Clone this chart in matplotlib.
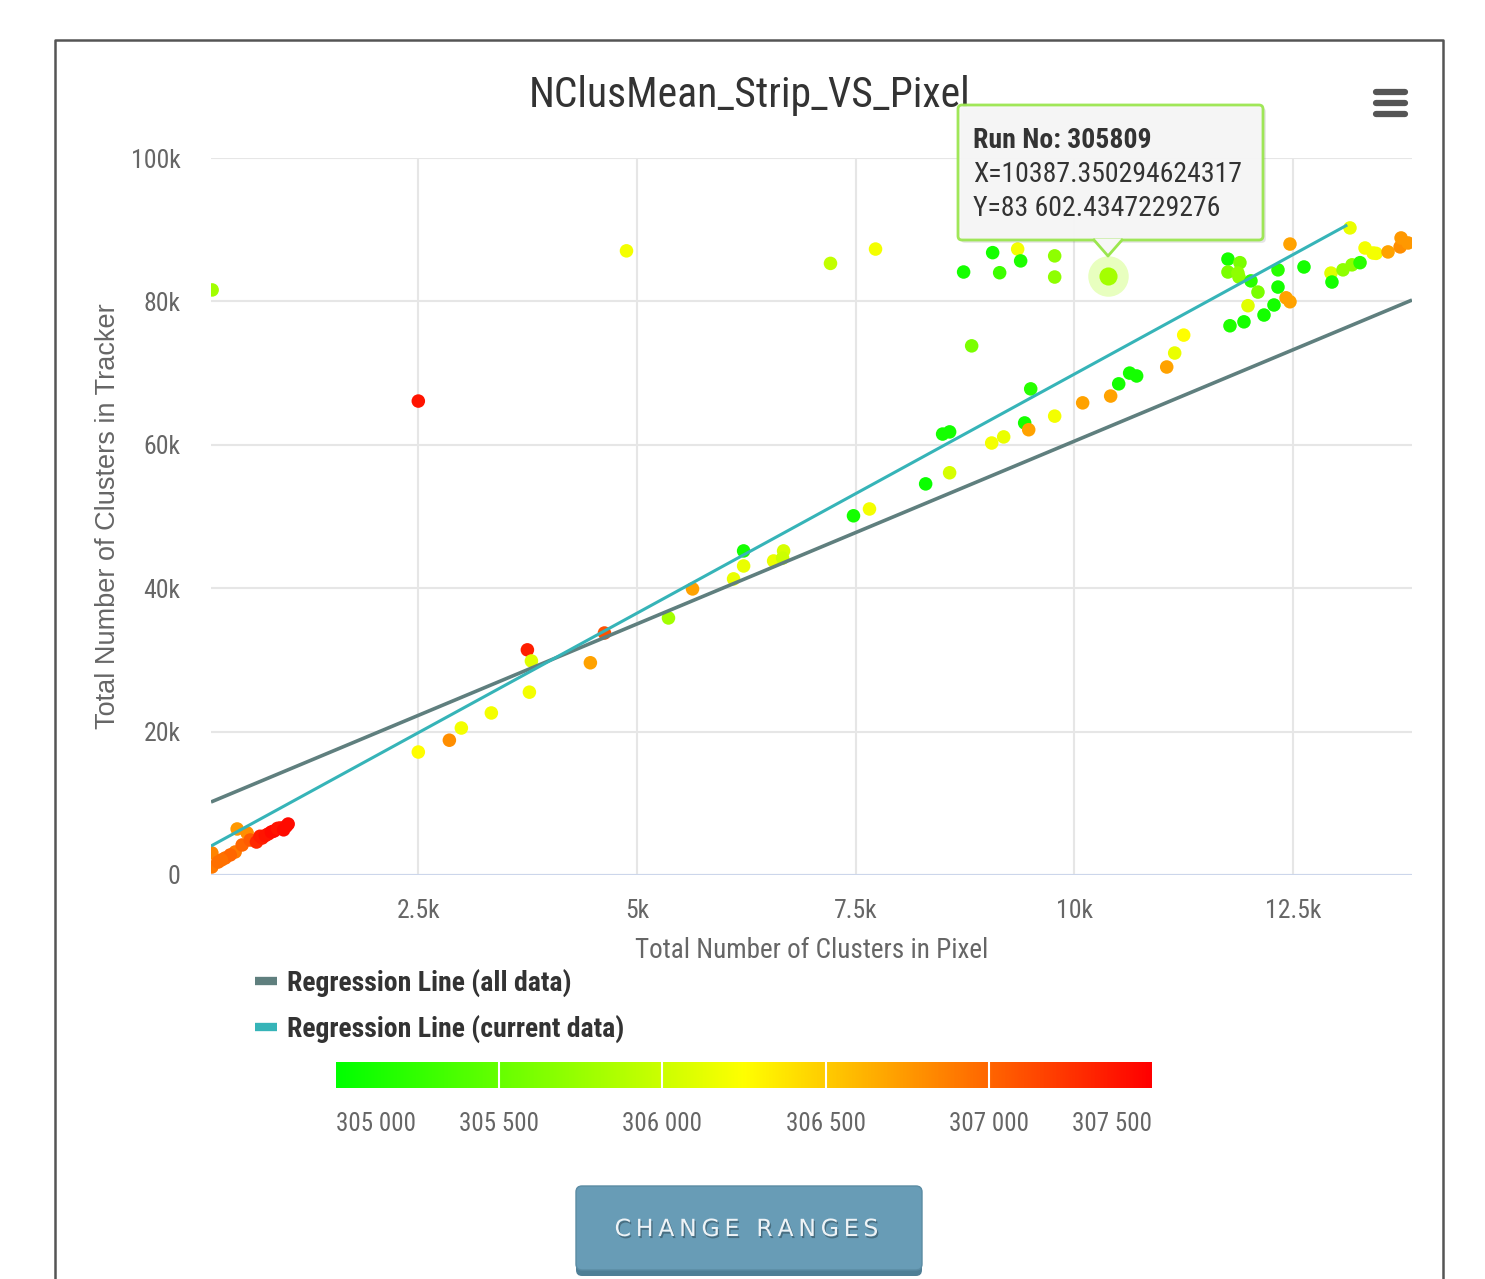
import matplotlib
matplotlib.use("Agg")
import matplotlib.pyplot as plt
import matplotlib.patheffects as pe
from matplotlib.colors import LinearSegmentedColormap, Normalize
from matplotlib.lines import Line2D
from matplotlib.patches import FancyBboxPatch, Polygon
import numpy as np

FONT = ['Roboto Condensed', 'Liberation Sans', 'DejaVu Sans']
plt.rcParams['font.family'] = FONT

# ---- data ----
pixel_clusters = [140, 140, 212, 292, 406, 486, 429, 543, 578, 350, 250, 650, 690, 715, 750, 784, 820, 852, 890, 921, 960, 990, 1012,
                  143, 2500, 2500, 2855, 2992, 3335, 3747, 3793, 3770, 4467, 4628, 4880, 5360, 5635,
                  6104, 6219, 6219, 6562, 6676, 6665, 7212, 7727, 8734, 9066, 9146, 9352, 9386,
                  9775, 9775, 10387, 8826, 9501, 8494, 8574, 8300, 8574, 9055, 9192, 9432, 9478,
                  9775, 10095, 10415, 10507, 10632, 10712, 11056, 11147, 11250, 7475, 7658,
                  12465, 11756, 11893, 11756, 11870, 11882, 12019, 12099, 12328, 12328, 11985,
                  12282, 12168, 11779, 11939, 12420, 12465, 12625, 12934, 12945, 13071, 13174,
                  13266, 13151, 13323, 13415, 13449, 13586, 13724, 13735, 13815]
tracker_clusters = [3070, 1120, 1810, 2370, 3210, 4190, 6420, 5860, 4880, 2800, 2100, 4600, 5400, 5160, 5500, 5720, 6000, 6140, 6500, 6560, 6300, 6800, 7110,
                    81600, 66100, 17150, 18800, 20500, 22600, 31400, 29850, 25500, 29600, 33750, 87050, 35850, 39900,
                    41300, 43100, 45200, 43800, 45200, 44200, 85300, 87300, 84100, 86800, 84000, 87300, 85650,
                    86350, 83400, 83602, 73800, 67800, 61500, 61800, 54550, 56100, 60250, 61100, 63050, 62100,
                    64000, 65850, 66800, 68500, 70000, 69600, 70850, 72800, 75300, 50100, 51050,
                    88000, 85900, 85400, 84100, 83950, 83400, 82860, 81300, 84400, 82000, 79400,
                    79500, 78100, 76600, 77150, 80500, 79950, 84800, 83950, 82700, 84400, 85100,
                    85400, 90250, 87450, 86750, 86700, 86900, 87600, 88850, 88150]
run_numbers = [306850, 306900, 306950, 306950, 306900, 307000, 306750, 306800, 307050, 307000, 306950, 307300, 307350, 307350, 307400, 307400, 307450, 307450, 307400, 307400, 307450, 307450, 307450,
               305800, 307400, 306250, 306800, 306200, 306200, 307350, 306100, 306200, 306700, 307100, 306200, 305800, 306700,
               306150, 306150, 305100, 306150, 306050, 306000, 305950, 306200, 305100, 305100, 305300, 306200, 305150,
               305700, 305700, 305809, 305600, 305200, 305100, 305100, 305050, 306050, 306200, 306150, 305100, 306700,
               306200, 306700, 306700, 305100, 305100, 305100, 306700, 306150, 306250, 305100, 306200,
               306700, 305100, 305600, 305600, 305700, 305700, 305200, 305600, 305200, 305100, 306100,
               305100, 305100, 305150, 305100, 306700, 306700, 305100, 306100, 305100, 305700, 305700,
               305200, 306150, 306200, 306200, 306200, 306700, 306800, 306750, 306750]
hover_run = 305809
hover_x_text = "10387.350294624317"
hover_y_text = "83 602.4347229276"

# regression lines: slope, intercept, x range
all_slope, all_intercept = 5.099, 9517
all_x_range = [130, 13860]
cur_slope, cur_intercept = 6.668, 3178
cur_x_range = [130, 13120]

run_min, run_max = 305000, 307500
cbar_ticks = [305000, 305500, 306000, 306500, 307000, 307500]
x_ticks = [2500, 5000, 7500, 10000, 12500]
x_tick_labels = ['2.5k', '5k', '7.5k', '10k', '12.5k']
y_ticks = [0, 20000, 40000, 60000, 80000, 100000]
y_tick_labels = ['0', '20k', '40k', '60k', '80k', '100k']

W, H = 1485, 1279
fig = plt.figure(figsize=(W / 100, H / 100), dpi=100)
fig.patch.set_facecolor('white')

cmap = LinearSegmentedColormap.from_list('runs', ['#00ff00', '#ffff00', '#ff0000'])
norm = Normalize(run_min, run_max)

# ---- main scatter ----
ax = fig.add_axes([211 / W, 1 - 875 / H, 1201 / W, 717 / H])
ax.set_xlim(130, 13860)
ax.set_ylim(0, 100000)
for s in ax.spines.values():
    s.set_visible(False)
ax.axhline(0, color='#ccd6eb', lw=1.5, zorder=1)
ax.set_xticks(x_ticks)
ax.set_xticklabels(x_tick_labels)
ax.set_yticks(y_ticks)
ax.set_yticklabels(y_tick_labels)
ax.grid(True, color='#e6e6e6', lw=1.5, zorder=0)
ax.set_axisbelow(True)
ax.tick_params(axis='both', length=0, labelsize=18.5, colors='#666666')
ax.tick_params(axis='x', pad=17)
ax.tick_params(axis='y', pad=22)

xs = np.array(pixel_clusters)
ys = np.array(tracker_clusters)
rs = np.array(run_numbers)
hover_idx = run_numbers.index(hover_run)
mask = np.ones(len(xs), bool)
mask[hover_idx] = False
ax.scatter(xs[mask], ys[mask], c=rs[mask], cmap=cmap, norm=norm, s=95, lw=0, zorder=3)

lx = np.array(all_x_range)
ax.plot(lx, all_slope * lx + all_intercept, color='#5f7f7e', lw=2.6, zorder=4, solid_capstyle='butt')
cx = np.array(cur_x_range)
ax.plot(cx, cur_slope * cx + cur_intercept, color='#36b4b8', lw=2.2, zorder=4, solid_capstyle='butt')

hcol = cmap(norm(rs[hover_idx]))
ax.scatter([xs[hover_idx]], [ys[hover_idx]], color=hcol, s=850, alpha=0.25, lw=0, zorder=5)
ax.scatter([xs[hover_idx]], [ys[hover_idx]], color=hcol, s=170, lw=0, zorder=6)

ax.set_xlabel('Total Number of Clusters in Pixel', fontsize=19.5, color='#666666')
ax.xaxis.set_label_coords(0.5, -0.087)
ax.set_ylabel('Total Number of Clusters in Tracker', fontsize=19.5, color='#666666',
              family=['Liberation Sans', 'DejaVu Sans'])
ax.yaxis.set_label_coords(-0.075, 0.5)

fig.text(750 / W, 1 - 95 / H, 'NClusMean_Strip_VS_Pixel', ha='center', va='center',
         fontsize=30, color='#333333')

# ---- legend ----
handles = [Line2D([], [], color='#5f7f7e', lw=6, solid_capstyle='butt'),
           Line2D([], [], color='#36b4b8', lw=6, solid_capstyle='butt')]
leg = fig.legend(handles, ['Regression Line (all data)', 'Regression Line (current data)'],
                 loc='upper left', bbox_to_anchor=(230 / W, 1 - 944 / H), frameon=False,
                 handlelength=0.8, handletextpad=0.35, labelspacing=0.62,
                 prop={'family': FONT, 'weight': 'bold', 'size': 20})
for t in leg.get_texts():
    t.set_color('#333333')

# ---- colour axis ----
cax = fig.add_axes([336 / W, 1 - 1088 / H, 816 / W, 26 / H])
grad = np.linspace(run_min, run_max, 512).reshape(1, -1)
cax.imshow(grad, cmap=cmap, norm=norm, aspect='auto', extent=[run_min, run_max, 0, 1])
cax.set_xlim(run_min, run_max)
cax.set_yticks([])
for v in cbar_ticks[1:-1]:
    cax.axvline(v, color='white', lw=1.5)
for s in cax.spines.values():
    s.set_visible(False)
cax.set_xticks(cbar_ticks)
cax.set_xticklabels([f'{v:,}'.replace(',', ' ') for v in cbar_ticks])
cax.tick_params(axis='x', length=0, labelsize=18, colors='#666666', pad=17)
tl = cax.get_xticklabels()
tl[0].set_ha('left')
tl[-1].set_ha('right')

# ---- overlay: frame, tooltip, menu, button ----
ui = fig.add_axes([0, 0, 1, 1], zorder=10)
ui.set_xlim(0, W)
ui.set_ylim(H, 0)
ui.axis('off')
ui.patch.set_alpha(0)
ui.plot([55, 55, 1443, 1443], [H, 40, 40, H], color='#555555', lw=1.8)

for yy in (92, 103, 114):
    ui.plot([1376, 1405], [yy, yy], color='#555555', lw=4.5, solid_capstyle='round')

tip = FancyBboxPatch((958, 105), 305, 135, boxstyle='round,pad=0,rounding_size=4',
                     fc='#f7f7f7', ec='#9be64f', lw=2, alpha=0.95,
                     path_effects=[pe.SimplePatchShadow(offset=(2, -2), alpha=0.15), pe.Normal()])
ui.add_patch(tip)
ui.add_patch(Polygon([[1094, 239], [1108, 256], [1122, 239]], closed=True, fc='#f7f7f7', ec='none'))
ui.plot([1094, 1108, 1122], [240, 256, 240], color='#9be64f', lw=2)
ui.text(973, 140, f'Run No: {hover_run}', fontsize=20, fontweight='bold',
        color='#333333', va='center')
ui.text(973, 175, f'X={hover_x_text}', fontsize=20, color='#333333', va='center')
ui.text(973, 209, f'Y={hover_y_text}', fontsize=20, color='#333333', va='center')

ui.add_patch(FancyBboxPatch((576, 1188), 346, 88, boxstyle='round,pad=0,rounding_size=6',
                            fc='#4f7f96', ec='none'))
ui.add_patch(FancyBboxPatch((576, 1186), 346, 84, boxstyle='round,pad=0,rounding_size=6',
                            fc='#689cb6', ec='#5a8ba3', lw=1))
ui.text(747, 1229, '\u2009'.join('CHANGE RANGES'), ha='center', va='center', fontsize=17,
        family='DejaVu Sans', color='#eef3f6',
        path_effects=[pe.withSimplePatchShadow(offset=(1, -1.5), shadow_rgbFace='#33505f', alpha=0.6)])

fig.savefig('out.png', dpi=100)
